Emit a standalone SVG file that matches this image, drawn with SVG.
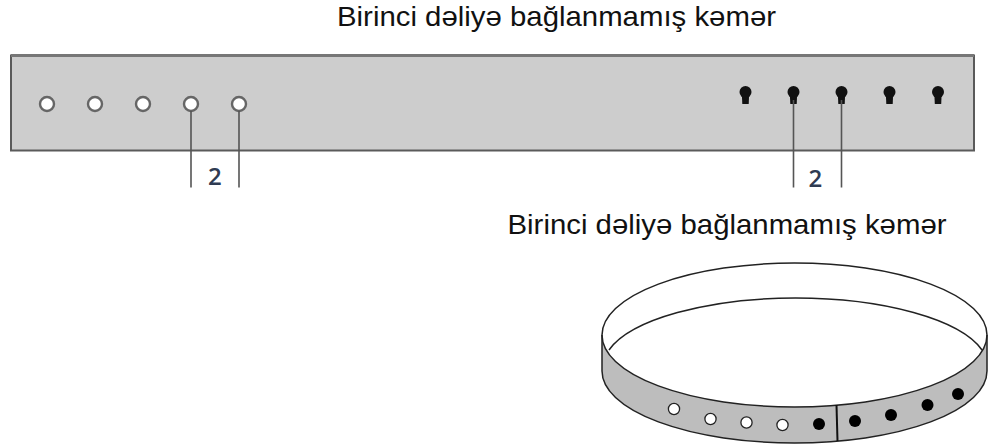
<svg xmlns="http://www.w3.org/2000/svg" width="1001" height="448" viewBox="0 0 1001 448">
<style>
text{font-family:"Liberation Sans",Arial,sans-serif;fill:#111}
.t{font-size:27.5px}
.n{font-size:24px;font-weight:600;font-family:"Open Sans","Liberation Sans",sans-serif;fill:#2f3b52}
.o{fill:#fff;stroke:#666;stroke-width:2.4}
.l{stroke:#555;stroke-width:1.6;fill:none}
.b{fill:none;stroke:#222;stroke-width:1.5}
.w{fill:#fff;stroke:#222;stroke-width:1.3}
</style>
<defs>
<g id="key"><circle cx="0" cy="-3" r="6" fill="#111"/><path d="M-3.6,0H3.6L3.2,9H-3.2Z" fill="#111"/></g>
</defs>
<text class="t" x="337" y="26" textLength="439" lengthAdjust="spacingAndGlyphs">Birinci dəliyə bağlanmamış kəmər</text>
<g id="flat-belt">
<rect x="11" y="55.5" width="963" height="95" fill="#cdcdcd" stroke="#5a5a5a" stroke-width="2"/>
<path d="M11,55.5H974" stroke="#777" stroke-width="3"/>
<g id="open-holes">
<circle class="o" cx="47" cy="104" r="7"/><circle class="o" cx="95" cy="104" r="7"/><circle class="o" cx="143" cy="104" r="7"/><circle class="o" cx="191" cy="104" r="7"/><circle class="o" cx="239" cy="104" r="7"/>
</g>
<g id="key-holes">
<use href="#key" x="745.5" y="95"/><use href="#key" x="793.5" y="95"/><use href="#key" x="841.5" y="95"/><use href="#key" x="889.5" y="95"/><use href="#key" x="938" y="95"/>
</g>
</g>
<g id="connectors">
<path class="l" d="M191,111V187.5M239,111V187.5M793.5,100V187.5M841.5,100V187.5"/>
</g>
<text class="n" x="208" y="185">2</text>
<text class="n" x="808.5" y="187">2</text>
<text class="t" x="507.5" y="234" textLength="439" lengthAdjust="spacingAndGlyphs">Birinci dəliyə bağlanmamış kəmər</text>
<g id="round-belt">
<path d="M602,335V371A192.5,72 0 0 0 987,371V335A192.5,72 0 0 1 602,335Z" fill="#bdbdbd"/>
<path class="b" d="M602,335A192.5,72 0 0 1 987,335V371A192.5,72 0 0 1 602,371Z"/>
<path class="b" d="M602,335A192.5,72 0 0 0 987,335"/>
<path class="b" d="M609,350A192.5,69 0 0 1 982,350"/>
<path d="M836.5,405L837.5,441" stroke="#111" stroke-width="2" fill="none"/>
<g id="band-holes">
<circle class="w" cx="674" cy="409" r="5.6"/><circle class="w" cx="710.5" cy="419" r="5.6"/><circle class="w" cx="746.5" cy="422.5" r="5.6"/><circle class="w" cx="782.5" cy="425" r="5.6"/>
<circle cx="819" cy="424" r="6" fill="#000"/><circle cx="855" cy="421" r="6" fill="#000"/><circle cx="891" cy="415" r="6" fill="#000"/><circle cx="927.5" cy="405" r="6" fill="#000"/><circle cx="958" cy="394" r="6" fill="#000"/>
</g>
</g>
</svg>
